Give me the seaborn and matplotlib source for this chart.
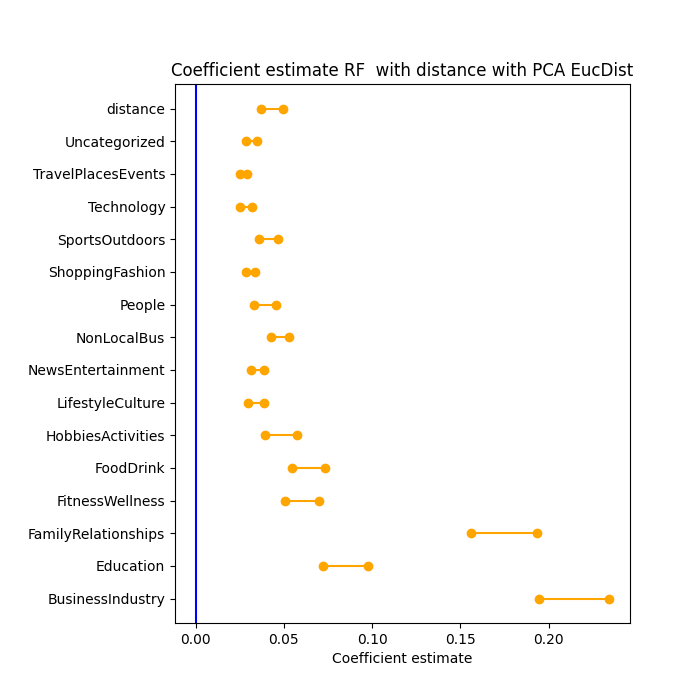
import numpy as np
import pandas as pd
import matplotlib
matplotlib.use("Agg")
import matplotlib.pyplot as plt
import seaborn as sns

# categories, bottom to top
categories = ["BusinessIndustry", "Education", "FamilyRelationships", "FitnessWellness",
              "FoodDrink", "HobbiesActivities", "LifestyleCulture", "NewsEntertainment",
              "NonLocalBus", "People", "ShoppingFashion", "SportsOutdoors",
              "Technology", "TravelPlacesEvents", "Uncategorized", "distance"]
lower = [0.1945, 0.0721, 0.1560, 0.0506, 0.0546, 0.0393, 0.0297, 0.0313,
         0.0429, 0.0332, 0.0283, 0.0359, 0.0251, 0.0251, 0.0283, 0.0372]
upper = [0.2344, 0.0976, 0.1934, 0.0701, 0.0733, 0.0574, 0.0389, 0.0386,
         0.0531, 0.0457, 0.0338, 0.0468, 0.0321, 0.0293, 0.0349, 0.0497]

pos = np.arange(len(categories))
df = pd.DataFrame({
    "category": categories * 2,
    "pos": list(pos) * 2,
    "value": lower + upper,
})

fig, ax = plt.subplots(figsize=(7, 7), dpi=100)
fig.subplots_adjust(left=0.25)

sns.lineplot(data=df, x="value", y="pos", units="category", estimator=None,
             color="orange", marker="o", markersize=6, linewidth=1.5,
             markeredgecolor="orange", markeredgewidth=1.0, ax=ax)
ax.axvline(0, color="blue", linewidth=1.5)

ax.set_yticks(pos)
ax.set_yticklabels(categories)
ax.set_xlabel("Coefficient estimate")
ax.set_ylabel("")
ax.set_title("Coefficient estimate RF  with distance with PCA EucDist")

fig.savefig("out.png", dpi=100)
